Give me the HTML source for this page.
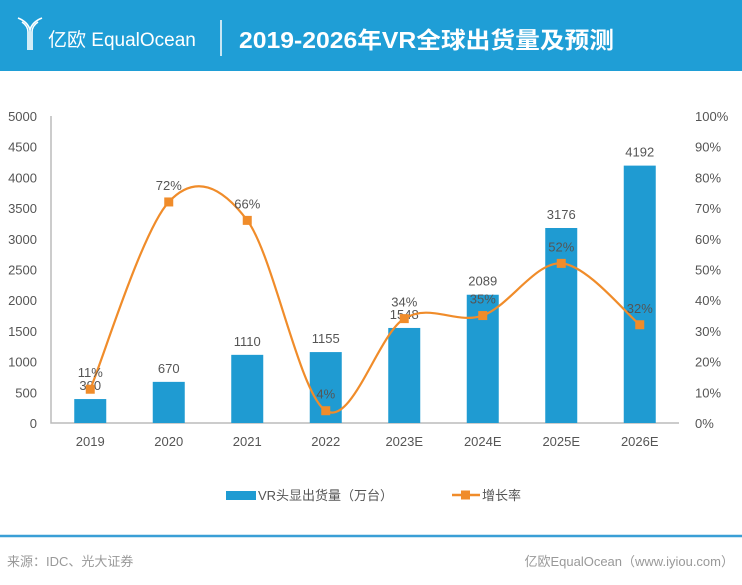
<!DOCTYPE html>
<html><head><meta charset="utf-8">
<style>
body{margin:0;width:742px;height:585px;background:#fff;overflow:hidden;font-family:"Liberation Sans","Noto Sans CJK SC",sans-serif;}
#hdr{position:absolute;left:0;top:0;width:742px;height:71px;background:#1f9ed6;}
svg{position:absolute;left:0;top:0}
</style></head><body>
<div id="hdr"></div>
<svg id="c" width="742" height="585">
 <g fill="none" stroke="#fff" stroke-width="1.6">
  <path d="M18 18 Q28 22 30 30 L30 50 M42 18 Q32 22 30 30 M22 22 Q28 26 28 32 L28 50 M38 22 Q32 26 32 32 L32 50"/>
 </g>
 <text x="48" y="46" fill="#fff" font-size="19">亿欧 EqualOcean</text>
 <line x1="221" y1="20" x2="221" y2="56" stroke="#fff" stroke-width="1.5"/>
 <text x="239" y="48" fill="#fff" font-size="23" font-weight="bold" textLength="375" lengthAdjust="spacingAndGlyphs">2019-2026年VR全球出货量及预测</text>
 <g id="plot"></g>
 <g>
  <rect x="226" y="491" width="30" height="9" fill="#1f9bd2"/>
  <text x="258" y="500" font-size="13" fill="#555">VR头显出货量（万台）</text>
  <line x1="452" y1="495" x2="480" y2="495" stroke="#f08c2a" stroke-width="2.5"/>
  <rect x="461" y="490.5" width="9" height="9" fill="#f08c2a"/>
  <text x="482" y="500" font-size="13" fill="#555">增长率</text>
 </g>
 <line x1="0" y1="536" x2="742" y2="536" stroke="#3a9fd6" stroke-width="2.5"/>
 <text x="7" y="566" font-size="13" fill="#999">来源：IDC、光大证券</text>
 <text x="734" y="566" font-size="13" fill="#999" text-anchor="end">亿欧EqualOcean（www.iyiou.com）</text>
</svg>
<script>
const categories=["2019","2020","2021","2022","2023E","2024E","2025E","2026E"];
const shipments=[390,670,1110,1155,1548,2089,3176,4192];
const growth=[11,72,66,4,34,35,52,32];
const leftTicks=[0,500,1000,1500,2000,2500,3000,3500,4000,4500,5000];
const rightTicks=[0,10,20,30,40,50,60,70,80,90,100];
const NS="http://www.w3.org/2000/svg";
const g=document.getElementById('plot');
const L=51,R=679,T=116,B=423;
const step=(R-L)/categories.length;
const x=i=>L+step*(i+0.5);
const yL=v=>B-(v/5000)*(B-T);
const yR=v=>B-(v/100)*(B-T);
function mk(tag,attrs,txt){const e=document.createElementNS(NS,tag);for(const k in attrs)e.setAttribute(k,attrs[k]);if(txt!==undefined)e.textContent=txt;g.appendChild(e);return e;}
leftTicks.forEach(t=>{const e=mk('text',{x:37,y:yL(t)+5,'font-size':13,fill:'#555','text-anchor':'end'},t);

});
rightTicks.forEach(t=>{const e=mk('text',{x:695,y:yR(t)+5,'font-size':13,fill:'#555'},t+'%');

});
const ax=mk('path',{d:`M${L} ${T} L${L} ${B} L${R} ${B}`,stroke:'#bbb','stroke-width':1.5,fill:'none'});


categories.forEach((c,i)=>{
 const bw=32,v=shipments[i];
 const b=mk('rect',{x:x(i)-bw/2,y:yL(v),width:bw,height:B-yL(v),fill:'#1f9bd2'});
 
 
 const l=mk('text',{x:x(i),y:yL(v)-9,'font-size':13,fill:'#555','text-anchor':'middle'},v);
 
 
 const xl=mk('text',{x:x(i),y:446,'font-size':13,fill:'#555','text-anchor':'middle'},c);
 
 
});
const pts=growth.map((v,i)=>[x(i),yR(v)]);
let d=`M${pts[0][0]} ${pts[0][1]}`;
for(let i=0;i<pts.length-1;i++){
 const p0=pts[Math.max(0,i-1)],p1=pts[i],p2=pts[i+1],p3=pts[Math.min(pts.length-1,i+2)];
 const t=1/6;
 d+=` C${p1[0]+(p2[0]-p0[0])*t} ${p1[1]+(p2[1]-p0[1])*t} ${p2[0]-(p3[0]-p1[0])*t} ${p2[1]-(p3[1]-p1[1])*t} ${p2[0]} ${p2[1]}`;
}
const ln=mk('path',{d:d,stroke:'#f08c2a','stroke-width':2.2,fill:'none'});


pts.forEach((p,i)=>{
 const m=mk('rect',{x:p[0]-4.5,y:p[1]-4.5,width:9,height:9,fill:'#f08c2a'});
 
 
 const l=mk('text',{x:p[0],y:p[1]-12,'font-size':13,fill:'#555','text-anchor':'middle'},growth[i]+'%');
 
 
});
</script>
</body></html>
